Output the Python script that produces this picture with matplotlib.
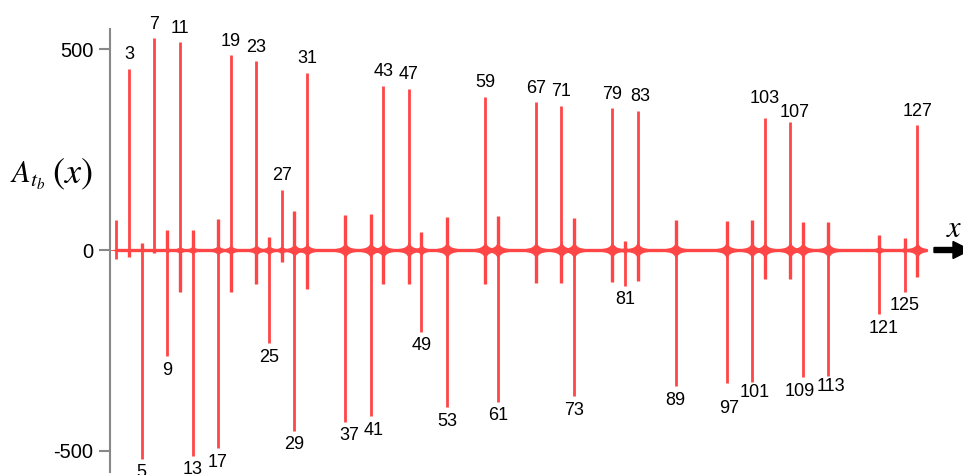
# Spike plot of A_tb(x): one spike per odd prime power, labelled with its x value
import matplotlib
matplotlib.use("Agg")
import matplotlib.pyplot as plt
from matplotlib.patches import FancyArrow
import numpy as np

plt.rcParams['font.family'] = ['Liberation Sans', 'DejaVu Sans']
plt.rcParams['mathtext.fontset'] = 'stix'

RED = '#ff4646'

# Upward spikes (value at each x)
up_x = [3, 7, 11, 19, 23, 27, 31, 43, 47, 59, 67, 71, 79, 83, 103, 107, 127]
up_vals = [452, 527, 517, 485, 470, 150, 441, 409, 401, 382, 368, 360, 353, 347, 328, 319, 311]
# Small downward rebound next to each upward spike
up_rebound = [-17, -8, -104, -104, -85, -29, -96, -85, -85, -85, -81, -81, -79, -77, -73, -71, -67]

# Downward spikes
down_x = [5, 9, 13, 17, 25, 29, 37, 41, 49, 53, 61, 73, 81, 89, 97, 101, 109, 113, 121, 125]
down_vals = [-520, -265, -512, -494, -232, -450, -428, -414, -203, -392, -378, -364, -89,
             -339, -332, -328, -317, -315, -160, -104]
# Small upward rebound next to each downward spike
down_rebound = [18, 50, 50, 78, 33, 97, 87, 90, 45, 82, 85, 79, 23, 75, 72, 75, 70, 69, 37, 30]

# The pair of small spikes at x = 1
start_x = [1, 1]
start_vals = [75, -23]

# Peak half-height of the ringing around each spike
burst_x = [1, 3, 5, 7, 9, 11, 13, 17, 19, 23, 25, 27, 29, 31, 37, 41, 43, 47, 49, 53, 59, 61,
           67, 71, 73, 79, 81, 83, 89, 97, 101, 103, 107, 109, 113, 121, 125, 127]
burst_h = [4, 5, 5, 5, 8, 12, 13, 16, 16, 18, 16, 13, 21, 21, 25, 25, 25, 25, 17, 26, 26, 26,
           26, 26, 26, 25, 10, 25, 25, 25, 25, 25, 25, 25, 25, 13, 9, 24]

# Signal extent along x
x_start = 1
x_end = 128

fig = plt.figure(figsize=(9.63, 4.75), dpi=100)
ax = fig.add_axes([110 / 963, 3 / 475, 853 / 963, 443 / 475])
ax.set_xlim(0, 134.2)
ax.set_ylim(-553, 550.6)

# baseline
ax.plot([x_start, x_end], [0, 0], color=RED, lw=2.4, solid_capstyle='butt', zorder=2)

# ringing around each spike: thickest at the centre, fading out on both sides
for bx, bh in zip(burst_x, burst_h):
    dx = np.linspace(-1.6, 1.6, 161)
    env = bh * 0.3 / (np.abs(dx) + 0.3)
    ax.fill_between(bx + dx, -env, env, color=RED, lw=0, zorder=2)

# rebound spikes
ax.vlines(up_x, 0, up_rebound, color=RED, lw=2.4, zorder=3)
ax.vlines(down_x, 0, down_rebound, color=RED, lw=2.4, zorder=3)
ax.vlines(start_x, 0, start_vals, color=RED, lw=2.0, zorder=3)

# main spikes
ax.vlines(up_x, 0, up_vals, color=RED, lw=2.0, zorder=4)
ax.vlines(down_x, 0, down_vals, color=RED, lw=2.0, zorder=4)

# small nudges (points) so crowded labels don't collide
nudge = {37: (3, 0), 41: (2, 0), 97: (2, -8), 101: (2, 2), 109: (-2, 0), 113: (2, 3),
         121: (3, 0), 103: (0, 4), 107: (3, -3), 83: (2, 0)}

for x, v in zip(up_x, up_vals):
    nx, ny = nudge.get(x, (0, 0))
    ax.annotate(str(x), (x, v), xytext=(nx, 4 + ny), textcoords='offset points',
                ha='center', va='bottom', fontsize=13, annotation_clip=False)
for x, v in zip(down_x, down_vals):
    nx, ny = nudge.get(x, (0, 0))
    ax.annotate(str(x), (x, v), xytext=(nx, -4 + ny), textcoords='offset points',
                ha='center', va='top', fontsize=13, annotation_clip=False)

# only the left axis is shown
for side in ['top', 'right', 'bottom']:
    ax.spines[side].set_visible(False)
ax.spines['left'].set_color('#888888')
ax.spines['left'].set_linewidth(1.5)
ax.set_xticks([])
ax.set_yticks([-500, 0, 500])
ax.set_yticklabels(['-500', '0', '500'])
ax.tick_params(axis='y', direction='out', length=8, width=1.5, color='#888888',
               labelsize=14.5, pad=4)

# axis names
fig.text(10 / 963, 1 - 183 / 475, r'$A_{t_b}$', fontsize=22, ha='left', va='baseline')
fig.text(52 / 963, 1 - 183 / 475, r'$(x)$', fontsize=26, ha='left', va='baseline')
fig.text(946 / 963, 1 - 229 / 475, r'$x$', fontsize=22, ha='left', va='center')

# arrow on the x axis
fig.add_artist(FancyArrow(9.34, 2.25, 0.36, 0, width=0.05, head_width=0.17, head_length=0.17,
                          length_includes_head=True, color='black',
                          transform=fig.dpi_scale_trans))

plt.savefig('out.png', dpi=100)
